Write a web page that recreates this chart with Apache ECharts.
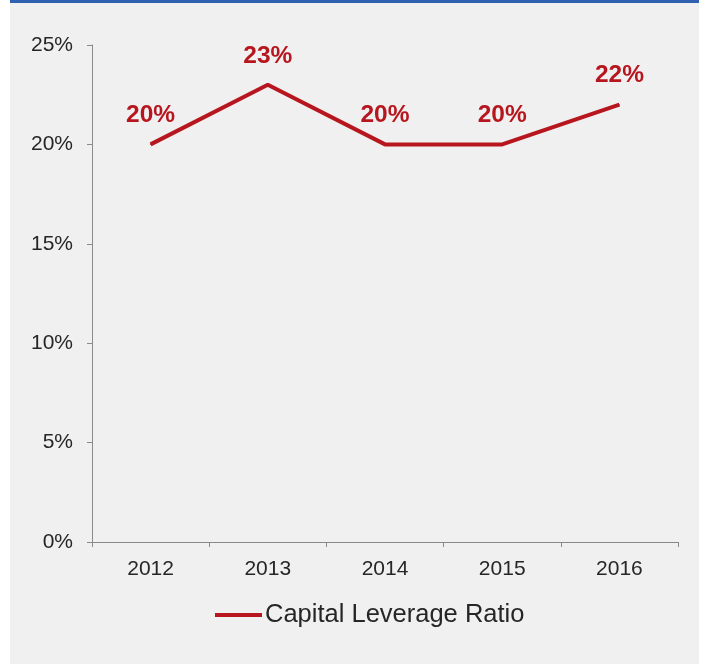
<!DOCTYPE html>
<html><head><meta charset="utf-8">
<script src="https://cdn.jsdelivr.net/npm/echarts@6/dist/echarts.min.js"></script>
<style>
html,body{margin:0;padding:0;background:#ffffff;width:701px;height:664px;overflow:hidden;}
#wrap{position:absolute;left:10px;top:0;width:689px;height:664px;background:#f0f0f0;}
#bar{position:absolute;left:0;top:0;width:689px;height:3px;background:#3060b0;}
#chart{position:absolute;left:0;top:0;width:689px;height:664px;}
</style></head>
<body>
<div id="wrap"><div id="chart"></div><div id="bar"></div></div>
<script>
const categories = ['2012','2013','2014','2015','2016'];
const leverageValues = [20, 23, 20, 20, 22];
const seriesName = 'Capital Leverage Ratio';
const yTicks = [0, 5, 10, 15, 20, 25];

const chart = echarts.init(document.getElementById('chart'), null, {renderer:'canvas'});
chart.setOption({
  backgroundColor: 'transparent',
  animation: false,
  grid: {left: 82, right: 21, top: 45, bottom: 122, containLabel: false},
  xAxis: {
    type: 'category', data: categories, boundaryGap: true,
    axisLine: {lineStyle: {color: '#8a8a8a', width: 1}},
    axisTick: {show: true, length: 5, lineStyle: {color: '#8a8a8a'}},
    axisLabel: {color: '#262626', fontSize: 21, fontFamily: 'Liberation Sans, Arial', margin: 17}
  },
  yAxis: {
    type: 'value', min: yTicks[0], max: yTicks[yTicks.length-1], interval: 5,
    axisLine: {show: true, lineStyle: {color: '#8a8a8a', width: 1}},
    axisTick: {show: true, length: 5, lineStyle: {color: '#8a8a8a'}},
    splitLine: {show: false},
    axisLabel: {color: '#262626', fontSize: 21, fontFamily: 'Liberation Sans, Arial', margin: 19,
      formatter: v => v + '%'}
  },
  legend: {
    top: 597, left: 200,
    itemWidth: 47, itemHeight: 4, itemGap: 4,
    icon: 'rect',
    textStyle: {color: '#262626', fontSize: 25.5, fontFamily: 'Liberation Sans, Arial', padding: [0,0,0,-2]},
    data: [seriesName]
  },
  series: [{
    name: seriesName, type: 'line', data: leverageValues,
    symbol: 'circle', symbolSize: 1, showSymbol: true, color: '#b7161f',
    itemStyle: {color: '#b7161f'},
    lineStyle: {color: '#b7161f', width: 4},
    label: {show: true, position: 'top', distance: 16, color: '#b7161f', fontSize: 24.5,
      fontWeight: 'bold', fontFamily: 'Liberation Sans, Arial', formatter: p => p.value + '%'}
  }]
});
</script>
</body></html>
